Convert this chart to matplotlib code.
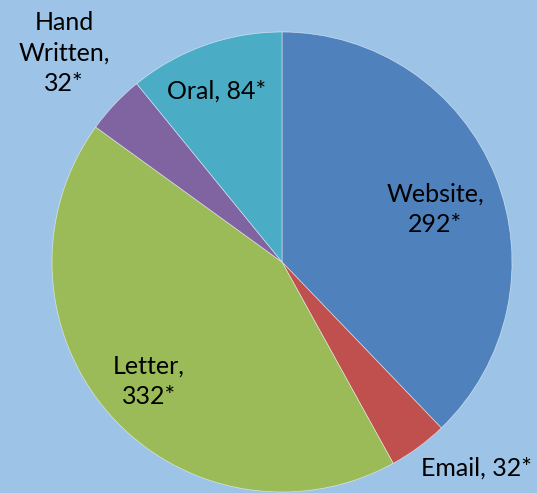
import matplotlib
matplotlib.use("Agg")
import matplotlib.pyplot as plt

categories = ["Website", "Email", "Letter", "Hand\nWritten", "Oral"]
values = [292, 32, 332, 32, 84]
label_texts = ["Website,\n292*", "Email, 32*", "Letter,\n332*", "Hand\nWritten,\n32*", "Oral, 84*"]
colors = ["#4F81BD", "#C0504D", "#9BBB59", "#8064A2", "#4BACC6"]
# label centres in pixel coordinates (x, y from top)
label_pos = [(435, 209), (476, 468), (149, 381), (64, 53), (217, 91)]

W, H = 537, 493
bg = "#9DC3E6"
fig = plt.figure(figsize=(W / 100, H / 100), dpi=100, facecolor=bg)
ax = fig.add_axes([0, 0, 1, 1])
ax.set_facecolor(bg)

ax.pie(values, colors=colors, startangle=90, counterclock=False,
       center=(282, H - 262), radius=230, frame=True,
       wedgeprops=dict(edgecolor=(1, 1, 1, 0.6), linewidth=0.5))
ax.set_xlim(0, W)
ax.set_ylim(0, H)
ax.set_aspect("equal")
ax.axis("off")

for txt, (x, y) in zip(label_texts, label_pos):
    ax.text(x, H - y, txt, ha="center", va="center", fontsize=18,
            family="Lato", color="black", linespacing=1.4)

fig.savefig("out.png", dpi=100, facecolor=bg)
